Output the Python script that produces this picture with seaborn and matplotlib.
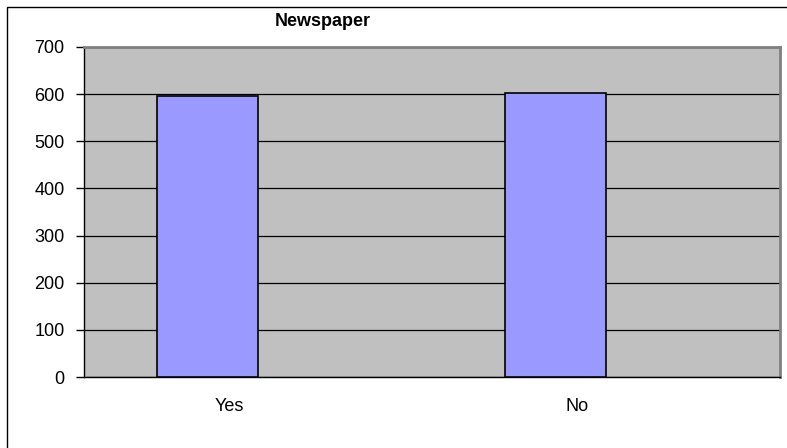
import matplotlib
matplotlib.use("Agg")
import matplotlib.pyplot as plt
from matplotlib.patches import Rectangle
from matplotlib.transforms import ScaledTranslation
import seaborn as sns
import pandas as pd

categories = ["Yes", "No"]
counts = [595, 603]
series_names = ["Newspaper", ""]
y_ticks = [0, 100, 200, 300, 400, 500, 600, 700]

sns.set_theme(style="white")
plt.rcParams["font.family"] = ["Liberation Sans", "DejaVu Sans"]
plt.rcParams["text.color"] = "black"

df = pd.DataFrame({"answer": categories, "count": counts, "series": series_names[0]})

fig = plt.figure(figsize=(7.87, 4.48), dpi=100)
ax = fig.add_axes([84 / 787, 71 / 448, 696 / 787, 330 / 448])
ax.set_facecolor("#C0C0C0")

sns.barplot(data=df, x="answer", y="count", hue="series", hue_order=series_names,
            order=categories, dodge=True, width=0.58, saturation=1,
            palette={series_names[0]: "#9999FF", series_names[1]: "#9999FF"},
            edgecolor="black", linewidth=1.2, legend=False, ax=ax, zorder=3)

ax.set_xlim(-0.5, 1.5)
ax.set_ylim(0, 700)
ax.set_yticks(y_ticks)
ax.yaxis.grid(True, color="black", linewidth=0.9, zorder=1)
ax.set_axisbelow(True)
ax.set_xlabel("")
ax.set_ylabel("")

ax.set_xticks([0, 1])
ax.set_xticklabels(categories)
ax.set_xticks([-0.5, 0.5, 1.5], minor=True)
ax.tick_params(axis="x", which="major", length=0, pad=15, labelsize=13, colors="black")
ax.tick_params(axis="x", which="minor", length=6, width=1, direction="out", color="black")
ax.tick_params(axis="y", length=6, width=1, direction="out", labelsize=13, pad=8,
               color="black", left=True, labelcolor="black")

# category labels sit slightly left of the category centre
shift = ScaledTranslation(-0.29, 0, fig.dpi_scale_trans)
for lbl in ax.get_xticklabels():
    lbl.set_transform(lbl.get_transform() + shift)

for side in ("left", "bottom"):
    ax.spines[side].set_color("black")
    ax.spines[side].set_linewidth(1.0)
for side in ("top", "right"):
    ax.spines[side].set_color("#808080")
    ax.spines[side].set_linewidth(2.0)

fig.text(323 / 787, 1 - 22 / 448, "Newspaper", ha="center", va="center",
         fontsize=13, fontweight="bold", color="black")

fig.patches.append(Rectangle((7 / 787, -0.05), 1.1, 1 - 7 / 448 + 0.05,
                             transform=fig.transFigure, fill=False,
                             edgecolor="black", linewidth=1.0))

fig.savefig("out.png", dpi=100)
